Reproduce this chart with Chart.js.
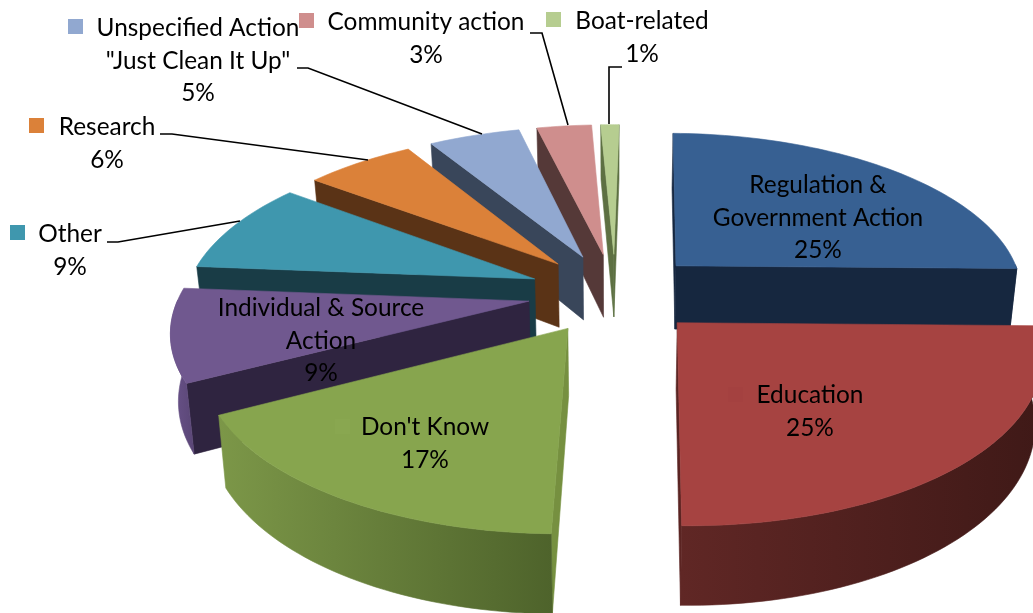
<!DOCTYPE html>
<html>
<head>
<meta charset="utf-8">
<title>Exploded 3D pie</title>
<style>html,body{margin:0;padding:0;background:#fff}canvas{display:block}</style>
<script src="https://cdn.jsdelivr.net/npm/chart.js@4/dist/chart.umd.js"></script>
</head>
<body>
<canvas id="pie" width="1033" height="613"></canvas>
<script>
// Survey responses, clockwise from twelve o'clock
const categories = ["Regulation & Government Action", "Education", "Don't Know", "Individual & Source Action", "Other", "Research", "Unspecified Action \"Just Clean It Up\"", "Community action", "Boat-related"];
const shares = [25, 25, 17, 9, 9, 6, 5, 3, 1];

// Slice colours: top face, cut face, outer wall left and right ends
const topColors  = ["#376092", "#a64341", "#87a54e", "#70588f", "#3f97ae", "#db8139", "#91a8d0", "#cf8e8d", "#b6cd90"];
const faceColors = ["#16273f", "#5a2422", "#769040", "#2f2440", "#193c46", "#5a3316", "#39465a", "#553938", "#5d7042"];
const wallLeft   = ["#16273f", "#602725", "#7c9748", "#6a538a", "#193c46", "#5a3316", "#39465a", "#553938", "#5d7042"];
const wallRight  = ["#16273f", "#3f1917", "#4e632b", "#5a4676", "#193c46", "#5a3316", "#39465a", "#553938", "#5d7042"];

// Text blocks placed around the pie; key is the small colour square beside a label
const callouts = [
  {lines: ["Regulation &", "Government Action", "25%"], x: 818, y: 185.5},
  {lines: ["Education", "25%"], x: 810, y: 395.5, key: [728, 387], faint: "#a44140"},
  {lines: ["Don't Know", "17%"], x: 425, y: 427.5, key: [335, 419], faint: "#89a750"},
  {lines: ["Individual & Source", "Action", "9%"], x: 321, y: 308.5},
  {lines: ["Other", "9%"], x: 70, y: 234.5, key: [10, 225]},
  {lines: ["Research", "6%"], x: 107, y: 127.5, key: [29, 118]},
  {lines: ["Unspecified Action", "\"Just Clean It Up\"", "5%"], x: 198, y: 28.5, key: [68, 19]},
  {lines: ["Community action", "3%"], x: 426, y: 22.5, key: [299, 13]},
  {lines: ["Boat-related", "1%"], x: 642, y: 21.5, key: [546, 12]}
];
const leaderLines = [
  [[107, 242], [118, 242], [240, 221]],
  [[160, 134], [172, 134], [368, 160]],
  [[297, 68], [308, 68], [482, 134]],
  [[530, 33], [542, 33], [568, 125]],
  [[622, 67], [609, 67], [609, 124]]
];

// Camera: plane radius on screen, depth foreshortening, perspective and extrusion
const view = {radiusX: 349, tilt: 161, perspective: 0.156, height: 65, converge: 0.018};

const pie3d = {
  id: "pie3d",
  beforeDatasetDraw(chart, args) {
    const ctx = chart.ctx;
    const arcs = args.meta.data;
    const order = arcs.map((a, i) => i).sort((i, j) => {
      const mid = a => (a.startAngle + a.endAngle) / 2;
      return Math.sin(mid(arcs[i])) - Math.sin(mid(arcs[j]));
    });

    order.forEach(i => drawSlice(ctx, arcs[i], i));
    drawCallouts(ctx);
    return false;
  }
};

function drawSlice(ctx, arc, index) {
  const R = arc.outerRadius, lift = arc.options.offset / R;
  const mid = (arc.startAngle + arc.endAngle) / 2;
  const u0 = lift * Math.cos(mid), v0 = lift * Math.sin(mid);

  // Plane position on the chart's circle to a screen position; z = 1 is the slice bottom
  const project = (u, v, z) => {
    const s = 1 / (1 - view.perspective * v);
    return [arc.x + view.radiusX * u * s * (1 - view.converge * z),
            arc.y + view.tilt * v * s + view.height * z * s];
  };
  const apex = z => project(u0, v0, z);
  const onRim = (a, z) => project(u0 + Math.cos(a), v0 + Math.sin(a), z);

  const fill = (pts, color) => {
    ctx.beginPath();
    pts.forEach((p, k) => k ? ctx.lineTo(p[0], p[1]) : ctx.moveTo(p[0], p[1]));
    ctx.closePath();
    ctx.fillStyle = color;
    ctx.fill();
    ctx.strokeStyle = color;
    ctx.lineWidth = 0.6;
    ctx.stroke();
  };
  const area = q => q.reduce((s, p, k) => {
    const n = q[(k + 1) % q.length];
    return s + p[0] * n[1] - n[0] * p[1];
  }, 0);

  const startQuad = [apex(0), onRim(arc.startAngle, 0), onRim(arc.startAngle, 1), apex(1)];
  const endQuad = [apex(0), onRim(arc.endAngle, 0), onRim(arc.endAngle, 1), apex(1)];
  if (area(startQuad) < 0) fill(startQuad, faceColors[index]);
  if (area(endQuad) > 0) fill(endQuad, faceColors[index]);

  // Outer wall: the part of the rim that faces the viewer, shaded across its width
  const span = arc.endAngle - arc.startAngle;
  const steps = Math.max(8, Math.round(span * 40));
  const upper = [], lower = [];
  for (let k = 0; k <= steps; k++) {
    const a = arc.startAngle + span * k / steps;
    if (Math.sin(a) < -0.02) continue;
    upper.push(onRim(a, 0));
    lower.unshift(onRim(a, 1));
  }
  if (upper.length > 1) {
    const xs = upper.concat(lower).map(p => p[0]);
    const shade = ctx.createLinearGradient(Math.min(...xs), 0, Math.max(...xs), 0);
    shade.addColorStop(0, wallLeft[index]);
    shade.addColorStop(1, wallRight[index]);
    fill(upper.concat(lower), shade);
  }

  // Top face
  const top = [apex(0)];
  for (let k = 0; k <= steps; k++) top.push(onRim(arc.startAngle + span * k / steps, 0));
  fill(top, topColors[index]);
}

function drawCallouts(ctx) {
  ctx.strokeStyle = "#000";
  ctx.lineWidth = 1.6;
  leaderLines.forEach(line => {
    ctx.beginPath();
    line.forEach((p, k) => k ? ctx.lineTo(p[0], p[1]) : ctx.moveTo(p[0], p[1]));
    ctx.stroke();
  });

  ctx.font = "24.4px Lato";
  ctx.textAlign = "center";
  ctx.textBaseline = "middle";
  callouts.forEach((c, i) => {
    if (c.key) {
      ctx.fillStyle = c.faint || topColors[i];
      ctx.fillRect(c.key[0], c.key[1], 15, 15);
    }
    ctx.fillStyle = "#000";
    c.lines.forEach((t, k) => ctx.fillText(t, c.x, c.y + k * 32.5));
  });
}

new Chart(document.getElementById("pie"), {
  type: "pie",
  data: {
    labels: categories,
    datasets: [{data: shares, backgroundColor: topColors, offset: 65, borderWidth: 0}]
  },
  options: {
    responsive: false,
    animation: false,
    rotation: 1,
    layout: {padding: {left: 197, bottom: 27}},
    plugins: {legend: {display: false}, tooltip: {enabled: false}}
  },
  plugins: [pie3d]
});
</script>
</body>
</html>
